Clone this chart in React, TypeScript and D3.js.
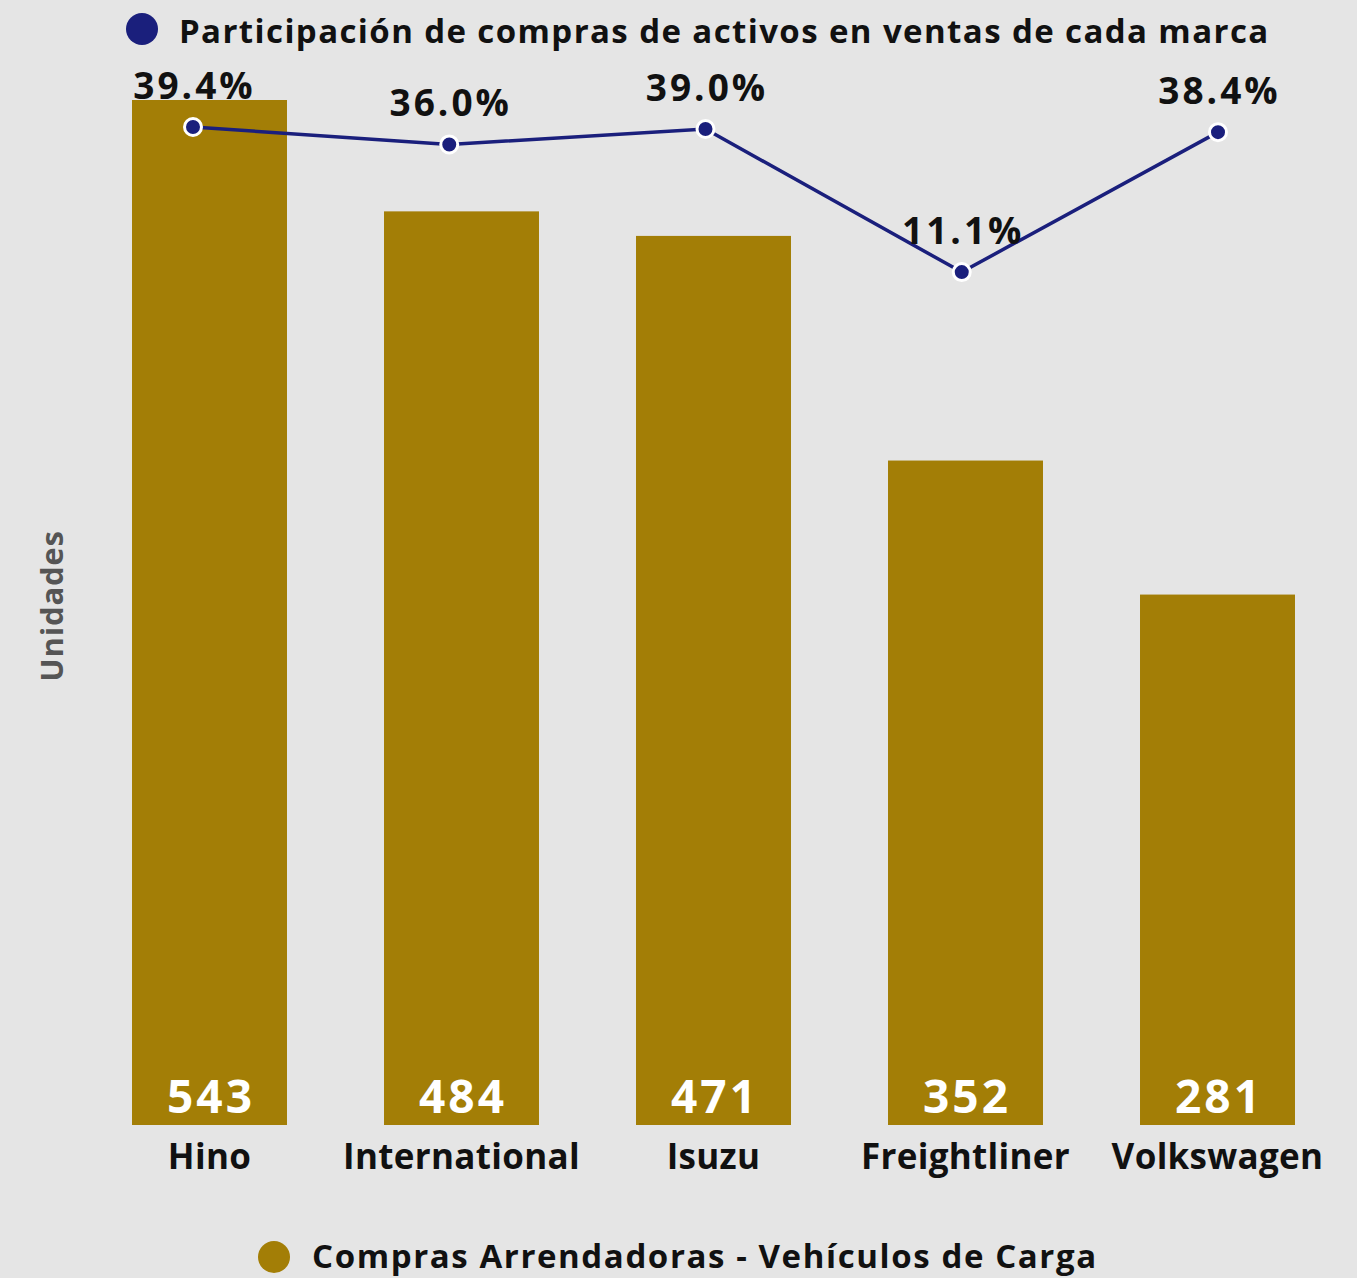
import * as d3 from 'd3';
import { useEffect, useRef } from 'react';

const marcas = ['Hino', 'International', 'Isuzu', 'Freightliner', 'Volkswagen'];
const compras = [543, 484, 471, 352, 281];
const participacion = [39.4, 36.0, 39.0, 11.1, 38.4];

const BG = '#e5e5e5';
const GOLD = '#a37e06';
const NAVY = '#1a1f7c';
const FONT = "'Open Sans', sans-serif";

const App = () => {
  const svgRef = useRef<SVGSVGElement | null>(null);

  useEffect(() => {
    const W = 1357,
      H = 1278;
    const svg = d3.select(svgRef.current);
    svg.selectAll('*').remove();
    svg.attr('width', W).attr('height', H).style('font-family', FONT);

    svg.append('rect').attr('width', W).attr('height', H).attr('fill', BG);

    // bars
    const x = d3
      .scaleBand<string>()
      .domain(marcas)
      .range([83.5, 1343.5])
      .paddingInner(0.385)
      .paddingOuter(0.1925);
    const y = d3.scaleLinear().domain([0, 543]).range([1125, 100]);

    const data = marcas.map((m, i) => ({ m, v: compras[i], p: participacion[i] }));

    svg
      .append('g')
      .selectAll('rect')
      .data(data)
      .join('rect')
      .attr('x', (d) => x(d.m)!)
      .attr('y', (d) => y(d.v))
      .attr('width', x.bandwidth())
      .attr('height', (d) => y(0) - y(d.v))
      .attr('fill', GOLD);

    svg
      .append('g')
      .selectAll('text')
      .data(data)
      .join('text')
      .attr('x', (d) => x(d.m)! + x.bandwidth() / 2 + 1.5)
      .attr('y', 1113)
      .attr('text-anchor', 'middle')
      .attr('fill', 'white')
      .attr('font-weight', 700)
      .attr('font-size', 46)
      .attr('letter-spacing', 3)
      .text((d) => d.v);

    // category labels
    svg
      .append('g')
      .selectAll('text')
      .data(data)
      .join('text')
      .attr('x', (d) => x(d.m)! + x.bandwidth() / 2)
      .attr('y', 1169)
      .attr('text-anchor', 'middle')
      .attr('fill', '#111')
      .attr('font-weight', 700)
      .attr('font-size', 35)
      .attr('letter-spacing', 0.3)
      .text((d) => d.m);

    // line (second axis)
    const x2 = d3.scalePoint<string>().domain(marcas).range([193, 1218]);
    const y2 = d3.scaleLinear().domain([0, 39.4]).range([329, 127]);

    const line = d3
      .line<{ m: string; p: number }>()
      .x((d) => x2(d.m)!)
      .y((d) => y2(d.p));

    svg
      .append('path')
      .datum(data)
      .attr('d', line)
      .attr('fill', 'none')
      .attr('stroke', NAVY)
      .attr('stroke-width', 3.5);

    svg
      .append('g')
      .selectAll('circle')
      .data(data)
      .join('circle')
      .attr('cx', (d) => x2(d.m)!)
      .attr('cy', (d) => y2(d.p))
      .attr('r', 8.5)
      .attr('fill', NAVY)
      .attr('stroke', 'white')
      .attr('stroke-width', 3);

    svg
      .append('g')
      .selectAll('text')
      .data(data)
      .join('text')
      .attr('x', (d) => x2(d.m)! + 1.5)
      .attr('y', (d) => y2(d.p) - 28)
      .attr('text-anchor', 'middle')
      .attr('fill', '#111')
      .attr('font-weight', 700)
      .attr('font-size', 37)
      .attr('letter-spacing', 3)
      .text((d) => d.p.toFixed(1) + '%');

    // y axis label
    svg
      .append('text')
      .attr('transform', 'translate(63, 606) rotate(-90)')
      .attr('text-anchor', 'middle')
      .attr('fill', '#555')
      .attr('font-weight', 700)
      .attr('font-size', 31)
      .attr('letter-spacing', 0.8)
      .text('Unidades');

    // legends
    svg.append('circle').attr('cx', 142).attr('cy', 29).attr('r', 16).attr('fill', NAVY);
    svg
      .append('text')
      .attr('x', 179)
      .attr('y', 43)
      .attr('fill', '#111')
      .attr('font-weight', 700)
      .attr('font-size', 33)
      .attr('letter-spacing', 1.4)
      .text('Participación de compras de activos en ventas de cada marca');

    svg.append('circle').attr('cx', 274).attr('cy', 1257).attr('r', 16).attr('fill', GOLD);
    svg
      .append('text')
      .attr('x', 312)
      .attr('y', 1268)
      .attr('fill', '#111')
      .attr('font-weight', 700)
      .attr('font-size', 33)
      .attr('letter-spacing', 1.6)
      .text('Compras Arrendadoras - Vehículos de Carga');
  }, []);

  return <svg ref={svgRef} style={{ position: 'absolute', left: 0, top: 0, display: 'block' }}></svg>;
};

export default App;
